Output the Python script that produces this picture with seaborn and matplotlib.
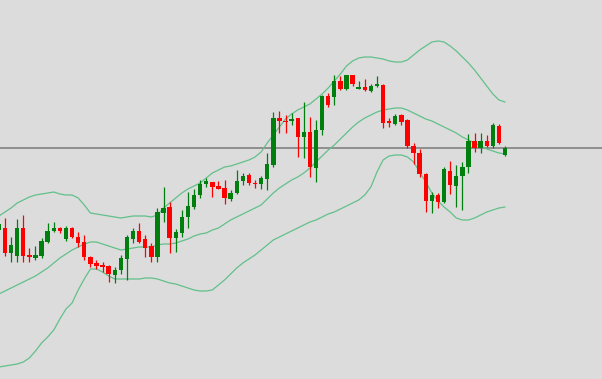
import numpy as np
import pandas as pd
import matplotlib
matplotlib.use("Agg")
import matplotlib.pyplot as plt
import seaborn as sns

# ---- data (price levels) ----
opens = [149, 151, 126, 123, 151, 124, 121, 123, 137, 148,
         151, 140, 151, 142, 137, 122, 116, 114, 113, 104,
         109, 120, 140, 148, 140, 133, 122, 166, 172, 141,
         146, 162, 172, 184, 195, 197, 193, 191, 180, 186,
         198, 204, 196, 195, 200, 214, 261, 258, 258, 261,
         242, 247, 211, 249, 283, 282, 298, 290, 304, 290,
         292, 288, 293, 294, 258, 255, 264, 259, 233, 226,
         205, 178, 184, 177, 208, 193, 203, 212, 238, 231,
         238, 233, 253, 224]
closes = [155, 126, 134, 151, 123, 122, 124, 138, 148, 151,
          148, 151, 142, 136, 122, 115, 113, 112, 105, 109,
          121, 142, 148, 137, 131, 122, 167, 171, 141, 147,
          162, 173, 184, 195, 198, 192, 190, 181, 186, 198,
          203, 196, 195, 201, 215, 261, 258, 257, 260, 242,
          247, 212, 249, 283, 274, 298, 290, 304, 295, 292,
          289, 293, 295, 256, 256, 263, 257, 233, 226, 205,
          178, 184, 177, 210, 194, 203, 212, 238, 231, 238,
          233, 254, 236, 231]
highs = [157, 161, 142, 160, 164, 131, 133, 141, 156, 157,
         152, 153, 152, 147, 144, 123, 119, 117, 114, 112,
         124, 144, 151, 156, 144, 136, 171, 192, 177, 150,
         169, 187, 190, 199, 201, 197, 198, 199, 189, 209,
         206, 206, 199, 203, 226, 267, 268, 264, 266, 261,
         277, 262, 259, 284, 286, 304, 303, 304, 304, 298,
         300, 295, 303, 295, 261, 265, 265, 260, 236, 230,
         206, 187, 186, 212, 218, 214, 217, 245, 246, 246,
         244, 256, 255, 233]
lows = [147, 123, 117, 117, 117, 117, 119, 121, 136, 147,
        146, 138, 141, 132, 119, 112, 110, 107, 97, 96,
        105, 99, 136, 136, 122, 117, 117, 157, 126, 127,
        142, 151, 170, 181, 192, 182, 190, 175, 178, 185,
        194, 194, 191, 190, 189, 212, 246, 246, 254, 222,
        221, 202, 197, 244, 272, 274, 289, 289, 293, 290,
        288, 287, 292, 251, 252, 254, 254, 231, 215, 202,
        167, 166, 171, 176, 185, 172, 169, 206, 227, 226,
        232, 231, 235, 223]

upper_band = [163, 167, 171, 176, 179, 182, 184, 185, 186, 187,
              185, 184, 184, 181, 174, 166, 165, 164, 163, 162,
              161, 162, 163, 163, 163, 162, 164, 171, 176, 181,
              186, 190, 193, 196, 201, 206, 209, 212, 213, 215,
              217, 219, 222, 227, 236, 244, 252, 260, 265, 269,
              272, 275, 280, 285, 291, 298, 305, 313, 318, 321,
              322, 322, 321, 320, 318, 317, 317, 319, 324, 329,
              333, 337, 338, 337, 333, 328, 322, 316, 309, 301,
              293, 285, 279, 277]
middle_band = [85, 88, 91, 94, 97, 100, 103, 107, 111, 116,
               121, 125, 129, 132, 135, 137, 137, 135, 133, 131,
               129, 130, 131, 132, 132, 132, 134, 135, 135, 136,
               138, 140, 143, 145, 146, 149, 151, 155, 159, 162,
               165, 168, 171, 174, 180, 186, 191, 195, 199, 202,
               206, 211, 217, 223, 229, 234, 240, 246, 252, 257,
               261, 264, 267, 269, 270, 271, 271, 269, 266, 263,
               260, 258, 255, 252, 249, 246, 242, 239, 236, 233,
               230, 228, 226, 225]
lower_band = [12, 13, 14, 15, 17, 21, 28, 36, 42, 49,
              60, 70, 76, 89, 100, 110, 110, 107, 103, 100,
              100, 100, 100, 100, 101, 101, 100, 98, 96, 95,
              93, 91, 89, 88, 88, 89, 94, 99, 105, 111,
              116, 120, 124, 129, 134, 139, 142, 145, 148, 151,
              154, 157, 159, 162, 165, 167, 170, 173, 176, 179,
              184, 192, 207, 219, 223, 224, 224, 222, 217, 207,
              197, 186, 178, 172, 167, 161, 159, 159, 161, 164,
              167, 169, 171, 172]
last_price = 231

# ---- build frames ----
n = len(opens)
idx = np.arange(n)
candles = pd.DataFrame({"i": idx, "open": opens, "close": closes,
                        "high": highs, "low": lows})
bands = pd.DataFrame({"i": idx, "upper": upper_band,
                      "middle": middle_band, "lower": lower_band})
bands_long = bands.melt(id_vars="i", var_name="band", value_name="value")

BG = "#dcdcdc"
UP = "#007f0e"
DOWN = "#ff0000"
BAND = "#62c08a"

sns.set_theme(style="white")
fig = plt.figure(figsize=(6.02, 3.79), dpi=100, facecolor=BG)
ax = fig.add_axes([0, 0, 1, 1])
ax.set_facecolor(BG)

# price line
ax.axhline(last_price, color="#7a7a7a", lw=1.1, zorder=1)

# Bollinger bands
sns.lineplot(data=bands_long, x="i", y="value", units="band",
             estimator=None, color=BAND, lw=0.9, ax=ax, zorder=2,
             legend=False)

# candles
up = candles["close"] >= candles["open"]
colors = np.where(up, UP, DOWN)
ax.vlines(candles["i"], candles["low"], candles["high"], colors=colors,
          lw=0.9, zorder=3)
body_bottom = np.minimum(candles["open"], candles["close"])
body_h = np.maximum(np.abs(candles["close"] - candles["open"]), 1.2)
ax.bar(candles["i"], body_h, bottom=body_bottom, width=0.72,
       color=colors, linewidth=0, zorder=4)

ax.set_xlim(0.18, 98.9)
ax.set_ylim(0, 379)
ax.set_xlabel("")
ax.set_ylabel("")
ax.set_xticks([])
ax.set_yticks([])
for s in ax.spines.values():
    s.set_visible(False)

fig.savefig("out.png", dpi=100, facecolor=BG)
